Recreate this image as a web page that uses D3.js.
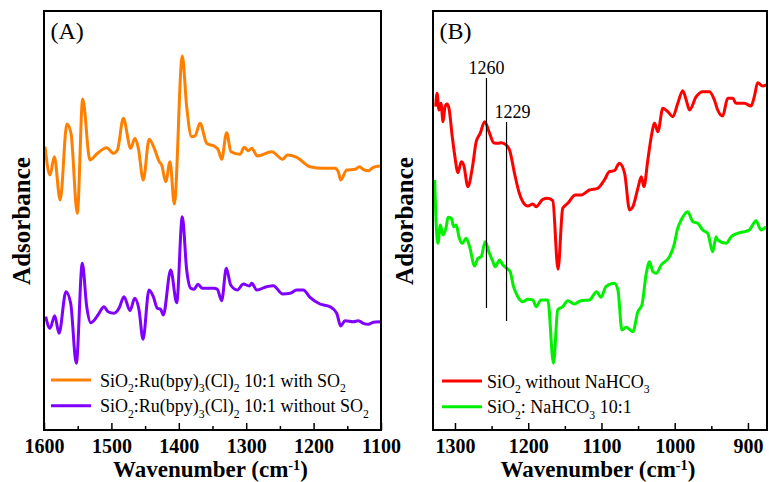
<!DOCTYPE html>
<html><head><meta charset="utf-8">
<script src="https://cdn.jsdelivr.net/npm/d3@7"></script>
<style>body{margin:0;background:#fff}svg{display:block}</style>
</head><body>
<script>
// ---------- DATA ----------
// Panel A: wavenumber (cm-1) and absorbance (a.u., offset)
const aWithSO2_x = [1598.5,1591,1584.7,1576,1566,1560,1550.6,1542.6,1531.8,1521.8,1507,1497,1491,1482.3,1471.4,1465,1460,1452.7,1444,1436.4,1429,1425.4,1419.4,1413,1406.7,1394.8,1388.3,1381,1376,1368.5,1358.6,1346.3,1341.4,1336.4,1329,1322.6,1309.2,1302.8,1296.9,1291.8,1283.5,1262,1245.8,1239,1225,1205.3,1185.6,1168.2,1163.4,1159.8,1150.9,1138.6,1132.2,1126.3,1118.8,1111.4,1101.5];
const aWithSO2_y = [2.833,2.55,2.733,2.30,3.06,2.97,2.167,3.31,2.70,2.76,2.823,2.767,2.80,3.117,2.817,2.917,2.817,2.50,2.907,2.817,2.683,2.65,2.483,2.683,2.26,3.74,3.233,2.933,2.94,3.067,2.867,2.833,2.80,2.707,2.973,2.783,2.757,2.827,2.793,2.817,2.74,2.783,2.707,2.75,2.727,2.633,2.617,2.617,2.583,2.50,2.60,2.607,2.633,2.607,2.593,2.627,2.64];
const aNoSO2_x = [1597.5,1591.1,1584.1,1577.7,1567.4,1560.4,1552.1,1543.2,1536.6,1530.7,1523.3,1518.4,1511,1505,1496.1,1488.7,1481.3,1472.4,1465.4,1459,1453.1,1444.2,1437.8,1431.9,1426.9,1423,1412,1403.1,1394.8,1388.3,1382.3,1377.4,1371.5,1365.1,1347.8,1342.9,1336.4,1329.5,1323,1313.2,1304.3,1295.4,1291.8,1284.4,1269.6,1259.8,1245.8,1235,1225.1,1215.3,1205.3,1190.5,1175.7,1165.7,1159.8,1153.4,1141.1,1133.7,1126.3,1118.8,1111.4,1101.5];
const aNoSO2_y = [1.133,1.017,1.143,0.967,1.383,1.267,0.667,1.667,1.233,1.073,1.117,1.167,1.233,1.183,1.167,1.217,1.333,1.193,1.317,1.20,0.907,1.40,1.333,1.217,1.207,1.15,1.60,1.273,2.133,1.60,1.417,1.407,1.457,1.417,1.417,1.407,1.293,1.617,1.45,1.40,1.46,1.44,1.467,1.40,1.433,1.443,1.36,1.367,1.40,1.40,1.327,1.26,1.233,1.167,1.04,1.093,1.083,1.093,1.067,1.057,1.077,1.083];
// Panel B
const bNoNa_x = [1326.3,1324.5,1321.8,1319.1,1316.3,1313.6,1310.9,1308.2,1303.7,1300.4,1295.9,1291.4,1288.1,1282.3,1276.4,1271,1265.5,1259.5,1252.7,1247.3,1241.4,1236.9,1230.1,1225.5,1218.7,1212.8,1207.4,1200.5,1193.7,1189.2,1180.1,1173.3,1166.5,1159.3,1152.9,1146,1135.6,1127.9,1116.5,1105.2,1096.1,1089.2,1082.4,1075.6,1068.4,1061.6,1057.1,1050.3,1045.6,1042.1,1036.7,1032,1027.5,1023,1016.2,1009.4,1002.6,995.8,989,984.3,979.8,970.7,961.7,952.6,945.8,941.3,934.5,927.7,920.8,916.2,904.9,895.8,891.3,886.8,880,875];
const bNoNa_y = [3.233,3.367,3.20,3.267,3.083,3.233,3.26,3.217,2.933,2.75,2.573,2.683,2.65,2.433,2.617,2.883,2.967,3.083,2.967,2.873,2.867,2.873,2.85,2.80,2.567,2.383,2.283,2.24,2.26,2.233,2.307,2.317,2.293,1.607,2.217,2.267,2.35,2.35,2.40,2.417,2.50,2.583,2.593,2.667,2.567,2.20,2.233,2.417,2.533,2.433,2.70,2.933,3.067,2.983,3.217,3.183,3.133,3.267,3.393,3.30,3.20,3.333,3.383,3.383,3.30,3.20,3.14,3.317,3.317,3.267,3.267,3.24,3.333,3.473,3.44,3.45];
const bNa_x = [1327.7,1325.5,1323.2,1320,1316.3,1311.9,1309.5,1305,1301.8,1298.2,1294.6,1290.1,1284.6,1280,1273.2,1268.7,1264.2,1258.7,1253.7,1248.2,1245.1,1239.1,1234.6,1229.2,1224.7,1220,1214.2,1207.4,1200.5,1193.7,1189.2,1182.4,1173.3,1165.5,1159.7,1152.9,1146,1136.9,1127.9,1116.5,1106.5,1100.7,1093.9,1082.4,1077.5,1072.1,1066.1,1057.1,1050.3,1044.8,1038.8,1034.3,1029.8,1025.2,1018.4,1007.1,1000.3,996.6,991.1,982.1,975.3,968.5,961.7,954.9,948.1,943.5,941.3,929.8,923,914,904.9,898.1,889,882.2,875.4];
const bNa_y = [2.50,2.033,1.867,2.05,1.95,2.033,2.127,2.117,2.033,2.05,1.933,1.867,1.917,1.833,1.64,1.717,1.733,1.883,1.783,1.683,1.633,1.70,1.65,1.617,1.583,1.433,1.333,1.283,1.307,1.30,1.233,1.30,1.30,0.667,1.20,1.233,1.293,1.26,1.293,1.30,1.383,1.327,1.433,1.467,1.40,1.00,1.027,0.983,1.183,1.25,1.567,1.683,1.583,1.567,1.65,1.733,1.867,2.00,2.10,2.183,2.083,2.067,2.00,1.967,1.783,1.933,1.90,1.867,1.933,1.967,1.983,2.00,2.093,2.00,2.033];

const aTicksMajor = [1600,1500,1400,1300,1200,1100];
const aTicksMinor = [1550,1450,1350,1250,1150];
const bTicksMajor = [1300,1200,1100,1000,900];
const bTicksMinor = [1250,1150,1050,950];
// annotation markers in panel B: [position, label, top value, bottom value]
const bMarkers = [[1257,"1260",3.52,1.22],[1229.6,"1229",3.08,1.09]];
const bMarkerLabelShift = [0, 6];
const aLegend = [
  [["SiO"],["2","sub"],[":Ru(bpy)"],["3","sub"],["(Cl)"],["2","sub"],[" 10:1 with SO"],["2","sub"]],
  [["SiO"],["2","sub"],[":Ru(bpy)"],["3","sub"],["(Cl)"],["2","sub"],[" 10:1 without SO"],["2","sub"]]
];
const bLegend = [
  [["SiO"],["2","sub"],[" without NaHCO"],["3","sub"]],
  [["SiO"],["2","sub"],[": NaHCO"],["3","sub"],[" 10:1"]]
];

// ---------- DRAW ----------
const W = 769, H = 482;
const svg = d3.select("body").append("svg").attr("width", W).attr("height", H);
const FONT = "'Liberation Serif','Times New Roman',serif";
const yTop = 11, yBottom = 430;
const y = d3.scaleLinear().domain([0, 4.19]).range([yBottom, yTop]);

function richText(g, parts, x, yb, size) {
  const t = g.append("text").attr("x", x).attr("y", yb)
    .attr("font-family", FONT).attr("font-size", size).attr("fill", "#000");
  let prev = "n";
  parts.forEach(p => {
    const kind = p[1] || "n";
    const ts = t.append("tspan").text(p[0]);
    const off = kind === "sub" ? size*0.3 : kind === "sup" ? -size*0.32 : 0;
    const poff = prev === "sub" ? size*0.3 : prev === "sup" ? -size*0.32 : 0;
    const dy = off - poff;
    if (dy !== 0) ts.attr("dy", dy);
    if (kind !== "n") ts.attr("font-size", size*(kind === "sup" ? 0.62 : 0.65));
    prev = kind;
  });
  return t;
}

function panel(opt) {
  const x = d3.scaleLinear().domain(opt.domain).range([opt.left, opt.right]);
  const g = svg.append("g");
  const cid = "clip" + opt.id;
  svg.append("defs").append("clipPath").attr("id", cid).append("rect")
    .attr("x", opt.left).attr("y", yTop).attr("width", opt.right - opt.left).attr("height", yBottom - yTop);
  const line = d3.line().x(d => x(d[0])).y(d => y(d[1])).curve(d3.curveMonotoneX);
  const cg = g.append("g").attr("clip-path", `url(#${cid})`);
  opt.series.forEach(s => {
    cg.append("path").datum(d3.zip(s.x, s.y)).attr("d", line)
      .attr("fill", "none").attr("stroke", s.color).attr("stroke-width", 3)
      .attr("stroke-linejoin", "round");
  });
  (opt.markers || []).forEach((m, i) => {
    g.append("line").attr("x1", x(m[0])).attr("x2", x(m[0]))
      .attr("y1", y(m[2])).attr("y2", y(m[3])).attr("stroke", "#000").attr("stroke-width", 1.2);
    g.append("text").attr("x", x(m[0]) + opt.markerShift[i]).attr("y", y(m[2]) - 4).attr("text-anchor", "middle")
      .attr("font-family", FONT).attr("font-size", 18).text(m[1]);
  });
  const ax = g.append("g").attr("transform", `translate(0,${yBottom})`)
    .call(d3.axisBottom(x).tickValues(opt.major).tickSize(-7).tickPadding(9).tickFormat(d3.format("d")));
  ax.select(".domain").remove();
  ax.selectAll("line").attr("stroke", "#000").attr("stroke-width", 1.5);
  ax.selectAll("text").attr("font-family", FONT).attr("font-size", 20).attr("font-weight", "bold").attr("fill", "#000");
  const mx = g.append("g").attr("transform", `translate(0,${yBottom})`)
    .call(d3.axisBottom(x).tickValues(opt.minor).tickSize(-4).tickFormat(""));
  mx.select(".domain").remove();
  mx.selectAll("line").attr("stroke", "#000").attr("stroke-width", 1.5);
  g.append("rect").attr("x", opt.left).attr("y", yTop).attr("width", opt.right - opt.left)
    .attr("height", yBottom - yTop).attr("fill", "none").attr("stroke", "#000").attr("stroke-width", 2);
  g.append("text").attr("x", opt.left + 6.5).attr("y", 39).attr("font-family", FONT)
    .attr("font-size", 24).text(opt.label);
  const xt = richText(g, [["Wavenumber (cm"],["-1","sup"],[")"]], (opt.left + opt.right)/2 - 2, 477, 23);
  xt.attr("text-anchor", "middle").attr("font-weight", "bold");
  g.append("text").attr("transform", `translate(${opt.ylabX},221) rotate(-90)`)
    .attr("text-anchor", "middle").attr("font-family", FONT).attr("font-size", 25)
    .attr("font-weight", "bold").text("Adsorbance");
  opt.legend.forEach((parts, i) => {
    const ly = opt.legY + i * 25.7;
    g.append("line").attr("x1", opt.legX).attr("x2", opt.legX + 40).attr("y1", ly).attr("y2", ly)
      .attr("stroke", opt.series[i].color).attr("stroke-width", 3);
    richText(g, parts, opt.legTextX, ly + 6.5, 18);
  });
}

panel({id:"A", domain:[1600,1100], left:44, right:381, major:aTicksMajor, minor:aTicksMinor,
  series:[{x:aWithSO2_x,y:aWithSO2_y,color:"#FF8000"},{x:aNoSO2_x,y:aNoSO2_y,color:"#8000FF"}],
  label:"(A)", ylabX:30, legend:aLegend, legX:51, legTextX:100, legY:380});
panel({id:"B", domain:[1330,874], left:433, right:767, major:bTicksMajor, minor:bTicksMinor,
  series:[{x:bNoNa_x,y:bNoNa_y,color:"#FF0000"},{x:bNa_x,y:bNa_y,color:"#00F000"}],
  markers:bMarkers, markerShift:bMarkerLabelShift, label:"(B)", ylabX:413, legend:bLegend, legX:442, legTextX:487, legY:381});
</script>
</body></html>
